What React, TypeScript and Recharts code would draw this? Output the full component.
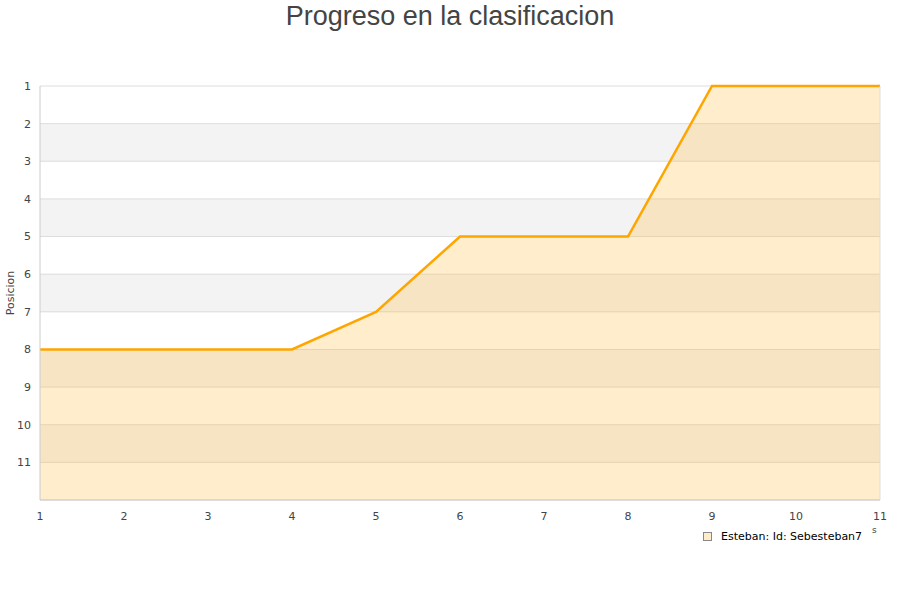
import { Area, AreaChart, CartesianGrid, ReferenceLine, XAxis, YAxis } from 'recharts';

const rounds = [1, 2, 3, 4, 5, 6, 7, 8, 9, 10, 11];
const positions = [8, 8, 8, 8, 7, 5, 5, 5, 1, 1, 1];
const yTicks = [1, 2, 3, 4, 5, 6, 7, 8, 9, 10, 11];
const seriesName = 'Esteban: Id: Sebesteban7';
const yTitle = 'Posicion';

const data = rounds.map((r, i) => ({ round: r, pos: positions[i] }));

const YTitle = ({ viewBox }: any) => {
  const cy = viewBox ? viewBox.y + viewBox.height / 2 : 293;
  return (
    <text
      x={10}
      y={cy}
      transform={`rotate(-90 10 ${cy})`}
      textAnchor="middle"
      dominantBaseline="central"
      fontSize={11}
      fill="#444"
      fontFamily="DejaVu Sans"
    >
      {yTitle}
    </text>
  );
};

export default function App() {
  return (
    <div style={{ position: 'absolute', left: 0, top: 0, width: 900, height: 600, background: '#fff' }}>
      <div
        style={{
          position: 'absolute',
          top: 0,
          width: 900,
          textAlign: 'center',
          fontFamily: '"Liberation Sans", Arial, sans-serif',
          fontSize: 27,
          color: '#444',
          lineHeight: '32px',
        }}
      >
        Progreso en la clasificacion
      </div>
      <AreaChart width={900} height={600} data={data} margin={{ top: 86, right: 20, bottom: 70, left: 0 }}>
        <CartesianGrid
          vertical={false}
          stroke="#dddddd"
          horizontalFill={['#ffffff', '#f3f3f3']}
          fillOpacity={1}
        />
        <XAxis
          dataKey="round"
          type="number"
          domain={[1, 11]}
          ticks={rounds}
          height={30}
          tickLine={false}
          stroke="#cccccc"
          tick={{ fontSize: 11, fill: '#444', fontFamily: 'DejaVu Sans' }}
          tickMargin={6}
        />
        <YAxis
          type="number"
          domain={[1, 12]}
          reversed
          ticks={yTicks}
          width={40}
          tickLine={false}
          stroke="#cccccc"
          interval={0}
          tick={{ fontSize: 11, fill: '#444', fontFamily: 'DejaVu Sans' }}
          tickMargin={3}
          label={<YTitle />}
        />
        <ReferenceLine x={11} stroke="#dddddd" />
        <Area
          type="linear"
          dataKey="pos"
          name={seriesName}
          baseValue={12}
          stroke="#ffa500"
          strokeWidth={2.5}
          fill="#ffb733"
          fillOpacity={0.25}
          dot={false}
          activeDot={false}
          isAnimationActive={false}
        />
      </AreaChart>
      <div
        style={{
          position: 'absolute',
          left: 703,
          top: 530,
          display: 'flex',
          alignItems: 'center',
          fontFamily: 'DejaVu Sans',
          fontSize: 11,
          color: '#000',
        }}
      >
        <span
          style={{
            display: 'inline-block',
            width: 7,
            height: 7,
            background: '#feeccb',
            border: '1px solid #888',
            marginRight: 9,
          }}
        />
        {seriesName}
      </div>
      <div style={{ position: 'absolute', left: 872, top: 525, fontFamily: 'DejaVu Sans', fontSize: 9, color: '#444' }}>
        s
      </div>
    </div>
  );
}
